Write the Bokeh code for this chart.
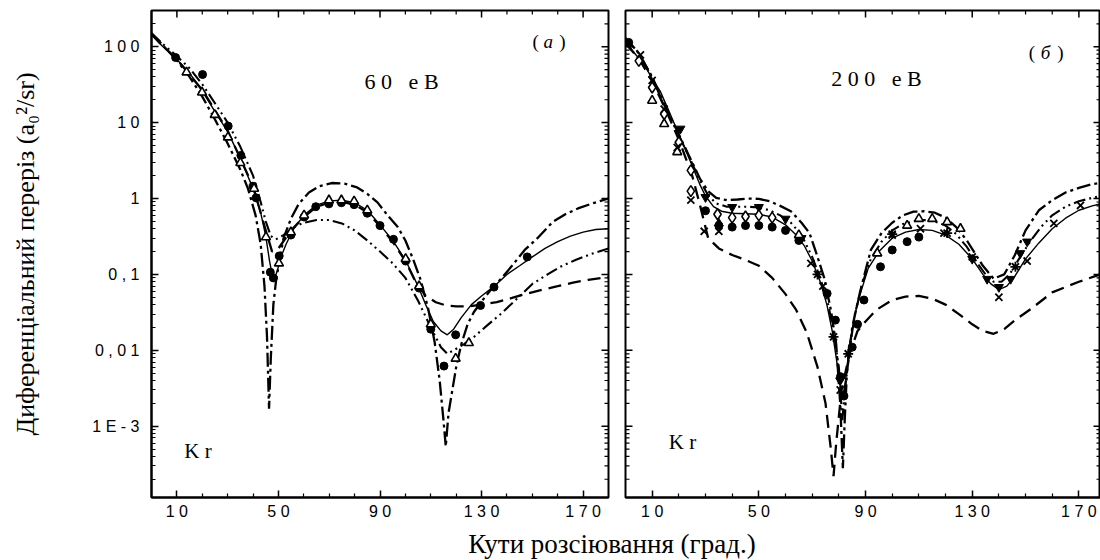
import math
from bokeh.plotting import figure
from bokeh.models import Range1d, FixedTicker, CustomJSTickFormatter, Label, Div
from bokeh.layouts import row, column
from bokeh.embed import file_html
from bokeh.resources import INLINE

SANS = "Liberation Sans"
SERIF = "Liberation Serif"
NB = "\u00a0"

# ---------------- axis ticks / labels ----------------
x_ticks = [10, 50, 90, 130, 170]
x_tick_labels = ["1 0", "5 0", "9 0", "1 3 0", "1 7 0"]
x_minor = [20, 30, 40, 60, 70, 80, 100, 110, 120, 140, 150, 160]
y_ticks = [1e-3, 1e-2, 1e-1, 1, 10, 100]
y_tick_labels = ["1 E - 3", "0 , 0 1", "0 , 1", "1", "1 0", "1 0 0"]
Y_MIN, Y_MAX = 1.15e-4, 300
y_minor = [m * 10.0 ** k for k in range(-4, 3) for m in range(2, 10) if Y_MIN < m * 10.0 ** k < Y_MAX]

# ---------------- panel (a): 60 eV ----------------
a_solid_x = [0, 3, 6, 10, 15, 20, 25, 30, 35, 40, 43, 45, 46.5, 48, 49.5, 51, 53, 56, 60, 65, 70, 75, 80, 85, 90, 95, 100, 105, 108, 111, 114, 116.5, 119, 122, 126, 130, 135, 140, 145, 150, 155, 160, 165, 170, 175, 180]
a_solid_y = [145, 112, 90, 68, 45, 26, 14, 7.6, 3.4, 1.35, 0.65, 0.32, 0.15, 0.082, 0.11, 0.17, 0.25, 0.4, 0.6, 0.82, 0.93, 0.95, 0.88, 0.7, 0.45, 0.28, 0.155, 0.07, 0.04, 0.024, 0.018, 0.016, 0.019, 0.027, 0.04, 0.052, 0.07, 0.1, 0.13, 0.17, 0.22, 0.27, 0.32, 0.36, 0.39, 0.40]

a_dd_x = [0, 5, 10, 15, 20, 25, 30, 35, 38, 41, 43, 44.5, 45.5, 46.3, 47, 48, 49, 50.5, 52, 55, 58, 62, 66, 71, 76, 81, 85, 89, 93, 97, 100, 103, 106, 109, 111.5, 113.5, 115, 115.9, 117, 118.5, 120, 122, 124.5, 127, 130, 134, 138, 142, 147, 152, 158, 163, 168, 174, 180]
a_dd_y = [150, 100, 66, 40, 22, 11, 5.3, 2.4, 1.35, 0.6, 0.25, 0.07, 0.015, 0.0017, 0.008, 0.04, 0.08, 0.16, 0.3, 0.55, 0.85, 1.2, 1.45, 1.6, 1.57, 1.4, 1.15, 0.89, 0.6, 0.42, 0.28, 0.16, 0.085, 0.035, 0.013, 0.004, 0.0012, 0.00054, 0.0015, 0.003, 0.006, 0.012, 0.022, 0.032, 0.044, 0.065, 0.09, 0.13, 0.21, 0.3, 0.49, 0.62, 0.74, 0.87, 1.0]

a_ddd_x = [0, 5, 10, 15, 20, 25, 30, 35, 40, 43, 45, 47, 49, 52, 56, 60, 65, 70, 75, 80, 85, 90, 95, 100, 105, 110, 114, 116.5, 119, 123, 127, 132, 137.5, 144, 150, 156, 161, 167, 173, 180]
a_ddd_y = [150, 105, 75, 52, 32, 18, 10, 4.8, 2.0, 0.9, 0.5, 0.32, 0.29, 0.33, 0.42, 0.48, 0.52, 0.52, 0.47, 0.38, 0.28, 0.2, 0.14, 0.09, 0.045, 0.02, 0.011, 0.009, 0.01, 0.012, 0.015, 0.021, 0.03, 0.048, 0.075, 0.1, 0.126, 0.155, 0.185, 0.22]

a_da_x = [0, 10, 20, 30, 40, 45, 47.5, 50, 55, 60, 65, 70, 75, 80, 85, 90, 95, 100, 104, 108, 112, 116, 120, 125, 130, 136, 142, 148, 154, 160, 166, 172, 180]
a_da_y = [145, 68, 27, 7.8, 1.45, 0.38, 0.2, 0.22, 0.38, 0.57, 0.78, 0.88, 0.9, 0.83, 0.66, 0.43, 0.27, 0.15, 0.08, 0.052, 0.043, 0.039, 0.038, 0.038, 0.04, 0.043, 0.049, 0.056, 0.063, 0.07, 0.078, 0.085, 0.092]

a_circ_x = [9.5, 20.1, 30.2, 35.2, 40.0, 41.2, 46.8, 48.0, 50.3, 54.9, 60.1, 64.7, 69.9, 74.8, 79.8, 85.0, 90.0, 95.3, 100.1, 105.4, 110.0, 115.2, 119.8, 129.6, 134.9, 148.0]
a_circ_y = [72, 43, 9.0, 3.7, 1.45, 1.02, 0.107, 0.09, 0.175, 0.33, 0.57, 0.78, 0.85, 0.88, 0.83, 0.64, 0.44, 0.29, 0.15, 0.066, 0.019, 0.0062, 0.016, 0.039, 0.068, 0.17]

a_tri_x = [13.8, 19.9, 24.9, 30.1, 35.0, 40.4, 45.1, 50.2, 54.9, 60.1, 69.9, 74.8, 79.8, 85.0, 100.1, 105.4, 110.0, 119.8, 125.0]
a_tri_y = [46, 25, 12.7, 6.4, 2.95, 1.35, 0.31, 0.14, 0.36, 0.6, 0.95, 0.95, 0.92, 0.7, 0.16, 0.07, 0.022, 0.0078, 0.0125]

# ---------------- panel (б): 200 eV ----------------
b_solid_x = [0, 3, 7, 10, 13, 16, 19, 22, 25, 28, 30, 33, 36, 40, 45, 50, 55, 60, 64, 67, 70, 73, 75.5, 77.5, 79, 80.5, 81.5, 82.5, 84, 86, 88, 91, 95, 100, 105, 110, 115, 120, 125, 130, 134, 137, 140, 143, 146, 150, 155, 160, 165, 170, 175, 178]
b_solid_y = [125, 85, 58, 38, 26, 15, 8.5, 4.8, 2.7, 1.5, 1.08, 0.78, 0.68, 0.64, 0.63, 0.62, 0.57, 0.45, 0.33, 0.24, 0.15, 0.08, 0.04, 0.018, 0.008, 0.0035, 0.0025, 0.004, 0.012, 0.03, 0.055, 0.12, 0.2, 0.3, 0.36, 0.39, 0.38, 0.33, 0.25, 0.16, 0.1, 0.075, 0.063, 0.07, 0.095, 0.16, 0.26, 0.4, 0.55, 0.7, 0.8, 0.85]

b_dd_x = [0, 5, 10, 15, 20, 25, 28, 31, 34, 38, 42, 46, 50, 54, 58, 62, 66, 69, 72, 74.5, 77, 79, 80.5, 81.5, 82.2, 83, 85, 88, 92, 96, 100, 104, 108, 112, 116, 120, 124, 128, 131, 134, 138, 142, 146, 150, 155, 160, 165, 170, 175, 178]
b_dd_y = [130, 82, 40, 16, 7, 3.0, 1.8, 1.25, 1.02, 0.95, 0.97, 1.0, 0.99, 0.92, 0.8, 0.68, 0.48, 0.35, 0.17, 0.09, 0.034, 0.012, 0.002, 0.00028, 0.0012, 0.005, 0.02, 0.06, 0.21, 0.35, 0.48, 0.6, 0.67, 0.68, 0.65, 0.56, 0.42, 0.28, 0.19, 0.13, 0.088, 0.1, 0.18, 0.38, 0.7, 0.95, 1.2, 1.38, 1.55, 1.6]

b_ddd_x = [0, 5, 10, 15, 20, 25, 28, 31, 34, 38, 42, 46, 50, 54, 58, 62, 66, 70, 73, 76, 78, 80, 81.3, 82.3, 84, 86, 89, 92, 96, 100, 104, 108, 112, 116, 120, 124, 128, 132, 135, 138, 141, 144, 148, 152, 156, 160, 165, 170, 175, 178]
b_ddd_y = [128, 83, 39, 15.5, 6.8, 2.9, 1.7, 1.1, 0.86, 0.78, 0.78, 0.78, 0.76, 0.7, 0.6, 0.48, 0.33, 0.17, 0.09, 0.04, 0.018, 0.006, 0.0012, 0.003, 0.01, 0.03, 0.08, 0.16, 0.27, 0.38, 0.46, 0.5, 0.52, 0.5, 0.44, 0.34, 0.23, 0.14, 0.1, 0.08, 0.08, 0.1, 0.17, 0.28, 0.43, 0.6, 0.78, 0.92, 1.02, 1.08]

b_da_x = [0, 5, 10, 15, 20, 25, 28, 31, 35, 40, 45, 50, 55, 60, 64, 68, 72, 75, 77, 78, 79, 81, 84, 87, 90, 94, 100, 105, 110, 115, 120, 125, 130, 134, 138, 142, 146, 152, 160, 170, 178]
b_da_y = [110, 70, 35, 15, 6, 2.0, 0.8, 0.3, 0.22, 0.18, 0.155, 0.13, 0.09, 0.055, 0.034, 0.017, 0.006, 0.002, 0.0005, 0.00022, 0.0006, 0.003, 0.009, 0.018, 0.024, 0.034, 0.046, 0.051, 0.052, 0.048, 0.04, 0.03, 0.022, 0.018, 0.0165, 0.019, 0.025, 0.035, 0.058, 0.08, 0.1]

b_dia_x = [5, 10, 14.5, 20, 24.5, 24.5, 34.5, 40, 45, 50, 55]
b_dia_y = [65, 29, 13, 5.5, 2.35, 1.25, 0.62, 0.56, 0.58, 0.6, 0.56]

b_x_x = [5.6, 10, 14.5, 19.4, 24.5, 29.5, 35, 69.5, 74, 80.5, 100, 110.6, 119.4, 130, 140, 150.6, 160.6, 170.6]
b_x_y = [78, 36, 15, 4.7, 0.95, 0.37, 0.37, 0.14, 0.07, 0.003, 0.33, 0.4, 0.35, 0.17, 0.05, 0.15, 0.47, 0.81]

b_tri_x = [10, 14.5, 19.4, 65, 94.4, 105.6, 110, 115, 120.6, 125.6]
b_tri_y = [19.5, 9.6, 4.1, 0.33, 0.19, 0.44, 0.54, 0.54, 0.49, 0.40]

b_dtri_x = [20.6, 30, 40, 50, 60, 66, 80.5, 130, 135.6, 140, 144.4, 148, 150.6]
b_dtri_y = [8.3, 1.04, 0.77, 0.77, 0.54, 0.3, 0.004, 0.16, 0.087, 0.068, 0.087, 0.19, 0.27]

b_utri_x = [35]
b_utri_y = [0.47]

b_circ_x = [1.2, 30, 35, 40, 45, 50, 55, 60, 65, 75.6, 78.7, 80.6, 81.9, 85, 87, 89.4, 95.6, 100, 105.6, 110]
b_circ_y = [114, 0.69, 0.44, 0.42, 0.44, 0.44, 0.42, 0.38, 0.28, 0.056, 0.025, 0.0045, 0.0025, 0.011, 0.022, 0.046, 0.126, 0.21, 0.27, 0.31]

b_ast_x = [72, 78, 83.5, 100, 120.6, 146.2]
b_ast_y = [0.1, 0.015, 0.009, 0.34, 0.35, 0.126]

# ---------------- helpers ----------------
FMT_CODE = """
for (let i = 0; i < vals.length; i++) {
    if (Math.abs(vals[i] - tick) <= 1e-6 * Math.abs(vals[i])) return labs[i];
}
return "";
"""

MAJ, MIN = 7, 4
FIG_H = 522


def style_axis(ax):
    ax.axis_line_width = 2
    ax.axis_line_color = "black"
    ax.major_tick_in = MAJ
    ax.major_tick_out = 0
    ax.minor_tick_in = MIN
    ax.minor_tick_out = 0
    ax.major_tick_line_width = 1.5
    ax.minor_tick_line_width = 1.2
    ax.major_tick_line_color = "black"
    ax.minor_tick_line_color = "black"
    ax.major_label_text_font = SANS
    ax.major_label_text_font_size = "16px"
    ax.major_label_text_color = "black"


def mirror_ticks(p, x_end, with_left):
    # inward ticks on the top and right (and left for panel б) sides of the frame
    p.ray(x=x_ticks, y=[Y_MAX] * len(x_ticks), length=MAJ, angle=-math.pi / 2,
          length_units="screen", line_color="black", line_width=1.5)
    p.ray(x=x_minor, y=[Y_MAX] * len(x_minor), length=MIN, angle=-math.pi / 2,
          length_units="screen", line_color="black", line_width=1.2)
    p.ray(x=[x_end] * len(y_ticks), y=y_ticks, length=MAJ, angle=math.pi,
          length_units="screen", line_color="black", line_width=1.5)
    p.ray(x=[x_end] * len(y_minor), y=y_minor, length=MIN, angle=math.pi,
          length_units="screen", line_color="black", line_width=1.2)
    if with_left:
        p.ray(x=[0] * len(y_ticks), y=y_ticks, length=MAJ, angle=0,
              length_units="screen", line_color="black", line_width=1.5)
        p.ray(x=[0] * len(y_minor), y=y_minor, length=MIN, angle=0,
              length_units="screen", line_color="black", line_width=1.2)


def make_panel(width, x_end, border_left, border_right, show_y):
    p = figure(width=width, height=FIG_H, x_range=Range1d(0, x_end), y_range=Range1d(Y_MIN, Y_MAX),
               y_axis_type="log", output_backend="svg", toolbar_location=None,
               min_border_left=border_left, min_border_right=border_right,
               min_border_top=10, min_border_bottom=24)
    p.grid.visible = False
    p.outline_line_color = "black"
    p.outline_line_width = 2
    p.background_fill_color = "white"
    p.border_fill_color = "white"

    p.xaxis[0].ticker = FixedTicker(ticks=x_ticks, minor_ticks=x_minor)
    p.xaxis[0].formatter = CustomJSTickFormatter(args=dict(vals=x_ticks, labs=x_tick_labels), code=FMT_CODE)
    style_axis(p.xaxis[0])
    p.xaxis[0].major_label_standoff = 5

    if show_y:
        p.yaxis[0].ticker = FixedTicker(ticks=y_ticks, minor_ticks=y_minor)
        p.yaxis[0].formatter = CustomJSTickFormatter(args=dict(vals=y_ticks, labs=y_tick_labels), code=FMT_CODE)
        style_axis(p.yaxis[0])
        p.yaxis[0].major_label_standoff = 12
    else:
        p.yaxis[0].visible = False
    mirror_ticks(p, x_end, not show_y)
    return p


def add_lines(p, sx, sy, ddx, ddy, dddx, dddy, dax, day):
    p.line(dax, day, line_color="black", line_width=2.3, line_dash="13 7")
    p.line(dddx, dddy, line_color="black", line_width=2.1, line_dash="12 4 2 4 2 4")
    p.line(ddx, ddy, line_color="black", line_width=2.3, line_dash="14 4 3 4")
    p.line(sx, sy, line_color="black", line_width=1.4)


def txt(p, x, y, s, size, style="normal"):
    p.add_layout(Label(x=x, y=y, text=s, text_font=SERIF, text_font_size=size, text_font_style=style,
                       text_align="center", text_baseline="middle", text_color="black"))


# ---------------- panel (a) ----------------
pa = make_panel(616, 180, 151, 8, True)
pa.yaxis[0].axis_label = "Диференціальний переріз (a₀²/sr)"
pa.yaxis[0].axis_label_text_font = SERIF
pa.yaxis[0].axis_label_text_font_size = "26px"
pa.yaxis[0].axis_label_text_font_style = "normal"
pa.yaxis[0].axis_label_text_color = "black"
pa.yaxis[0].axis_label_standoff = 49

add_lines(pa, a_solid_x, a_solid_y, a_dd_x, a_dd_y, a_ddd_x, a_ddd_y, a_da_x, a_da_y)
pa.scatter(a_circ_x, a_circ_y, marker="circle", size=8, fill_color="black", line_color="black")
pa.scatter(a_tri_x, a_tri_y, marker="triangle", size=9, fill_color="white", line_color="black", line_width=1.6)

txt(pa, 151.3, 118, "(", "19px")
txt(pa, 156.3, 118, "a", "19px", "italic")
txt(pa, 161.8, 118, ")", "19px")
txt(pa, 98.5, 34.6, "6 0" + NB * 3 + "е В", "22px")
txt(pa, 18.3, 4.7e-4, "K r", "21px")

# ---------------- panel (б) ----------------
pb = make_panel(484, 178.1, 9, 0, False)
add_lines(pb, b_solid_x, b_solid_y, b_dd_x, b_dd_y, b_ddd_x, b_ddd_y, b_da_x, b_da_y)
pb.scatter(b_circ_x, b_circ_y, marker="circle", size=8, fill_color="black", line_color="black")
pb.scatter(b_dtri_x, b_dtri_y, marker="inverted_triangle", size=9, fill_color="black", line_color="black")
pb.scatter(b_utri_x, b_utri_y, marker="triangle", size=9, fill_color="black", line_color="black")
pb.scatter(b_tri_x, b_tri_y, marker="triangle", size=9, fill_color="white", line_color="black", line_width=1.6)
pb.scatter(b_dia_x, b_dia_y, marker="diamond", size=11, fill_color="white", line_color="black", line_width=1.6)
pb.scatter(b_x_x, b_x_y, marker="x", size=10, line_color="black", line_width=1.8)
pb.scatter(b_ast_x, b_ast_y, marker="asterisk", size=10, line_color="black", line_width=1.8)

txt(pb, 152.4, 83.4, "(", "19px")
txt(pb, 157.5, 83.4, "б", "19px", "italic")
txt(pb, 163.1, 83.4, ")", "19px")
txt(pb, 94.1, 37.9, "2 0 0" + NB * 3 + "е В", "22px")
txt(pb, 21.4, 6.2e-4, "K r", "21px")

xlabel = Div(text='<div style="width:1100px; text-align:center; position:relative; left:62px; top:7px; '
                  'font-family:\'Liberation Serif\'; font-size:27px; line-height:30px; color:black; '
                  'white-space:nowrap;">Кути розсіювання (град.)</div>',
             width=1100, height=30, margin=(0, 0, 0, 0))

layout = column(row(pa, pb, spacing=0), xlabel, spacing=0)
open("out.html", "w").write(file_html(layout, INLINE))
